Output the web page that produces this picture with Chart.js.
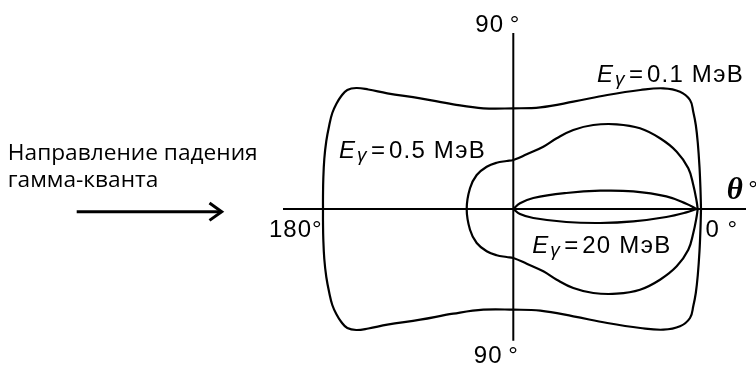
<!DOCTYPE html>
<html><head><meta charset="utf-8">
<script src="https://cdn.jsdelivr.net/npm/chart.js@4/dist/chart.umd.min.js"></script>
<style>html,body{margin:0;padding:0;background:#fff;overflow:hidden}canvas{display:block}</style>
</head><body>
<canvas id="c" width="756" height="373"></canvas>
<script>
// ---- data (units of the drawing, origin = scattering point, y up) ----
// Upper half of each curve, from theta = 0 (right) to theta = 180 (left); lower half is its mirror.
const curve01X = [187.7, 187.2, 186.2, 184.5, 182.5, 180, 176.7, 166.7, 150, 127, 94, 60, 27, 0, -30, -60, -93, -126, -145, -157, -166, -172, -177, -181, -184, -187, -189, -190, -190.3, -190.3];
const curve01Y = [0, 19, 42, 66, 84, 97, 109, 117.3, 120.7, 119, 114, 107.3, 101.7, 100.7, 100.7, 104.7, 110.7, 115.7, 119.5, 121, 119, 113, 105, 96, 84, 68, 50, 30, 12, 0];

const curve05X = [184.4, 183.4, 180, 175, 163.4, 146.7, 126.7, 103.4, 80, 60, 43.4, 30, 13.4, 0, -6.6, -16.6, -26.6, -36.6, -43.3, -46.6];
const curve05Y = [0, 7.3, 24, 40.7, 57.3, 70.7, 80.7, 84.7, 84, 79, 70.7, 62.3, 54.7, 49, 48, 46.3, 42.3, 34, 20.7, 0];

const curve20UpperX = [0, 6.7, 20, 53, 87, 120, 153, 173, 183.4];
const curve20UpperY = [0, 5.7, 11, 16, 18.3, 17.6, 12.6, 5.3, 0];
const curve20LowerX = [0, 6.7, 20, 53, 87, 120, 153, 173, 183.4];
const curve20LowerY = [0, -5, -9, -13, -14, -12.4, -8, -3.4, 0];

const energyLabels = ['0.1 МэВ', '0.5 МэВ', '20 МэВ'];
const angleLabels = ['90\u2009°', '90\u2009°', '180°', '0 °'];
const directionText = ['Направление падения', 'гамма-кванта'];

// ---- helpers ----
function pts(X, Y, sign) { return X.map((x, i) => ({x: x, y: sign * Y[i]})); }
function closedMirror(X, Y) {
  const up = pts(X, Y, 1);
  const down = pts(X, Y, -1).slice(0, -1).reverse();
  return up.concat(down);
}

const ORIGIN_X = 513.3, ORIGIN_Y = 209;
const W = 756, H = 373;

const lineDs = (data, w, extra) => Object.assign({
  data: data, showLine: true, borderColor: '#000', borderWidth: w,
  pointRadius: 0, pointHoverRadius: 0, fill: false, tension: 0
}, extra || {});

const datasets = [
  lineDs([{x: -230.3, y: 0}, {x: 232.7, y: 0}], 2),
  lineDs([{x: 0, y: 176}, {x: 0, y: -131.7}], 2),
  lineDs(closedMirror(curve01X, curve01Y), 2.2, {tension: 0.4}),
  lineDs(closedMirror(curve05X, curve05Y), 2.2, {tension: 0.4}),
  lineDs(pts(curve20UpperX, curve20UpperY, 1), 2.2, {tension: 0.4}),
  lineDs(pts(curve20LowerX, curve20LowerY, 1), 2.2, {tension: 0.4}),
  // incident direction arrow
  lineDs([{x: -436.6, y: -2.7}, {x: -292.5, y: -2.7}], 3),
  lineDs([{x: -303.8, y: 6}, {x: -291.6, y: -2.7}, {x: -303.8, y: -11.4}], 3, {borderJoinStyle: 'miter'})
];

const textPlugin = {
  id: 'texts',
  afterDatasetsDraw(chart) {
    const ctx = chart.ctx, sx = chart.scales.x, sy = chart.scales.y;
    const X = v => sx.getPixelForValue(v), Y = v => sy.getPixelForValue(v);
    const spacing = s => { if ('letterSpacing' in ctx) ctx.letterSpacing = s; };
    ctx.save();
    ctx.fillStyle = '#000';
    ctx.textBaseline = 'alphabetic';
    ctx.textAlign = 'left';
    const sans = '"Liberation Sans", Arial, sans-serif';
    ctx.font = '24px ' + sans;
    spacing('1px');
    ctx.fillText(angleLabels[0], X(-38), Y(177));
    ctx.fillText(angleLabels[1], X(-39.5), Y(-154.3));
    ctx.fillText(angleLabels[2], X(-244.3), Y(-28));
    ctx.fillText(angleLabels[3], X(192.2), Y(-28.3));
    spacing('0px');
    // theta
    ctx.font = 'italic bold 31px "Liberation Serif", "Times New Roman", serif';
    ctx.fillText('θ', X(213.5), Y(10));
    ctx.font = '24px ' + sans;
    ctx.fillText('°', X(235), Y(12));
    // energy labels
    const eLab = (dx, dy, val) => {
      const x0 = X(dx), y0 = Y(dy);
      ctx.font = 'italic 24px ' + sans;
      ctx.fillText('E', x0 - 1, y0);
      ctx.font = 'italic 19px ' + sans;
      ctx.fillText('γ', x0 + 17, y0 + 3);
      ctx.font = '24px ' + sans;
      ctx.fillText('=', x0 + 31, y0);
      spacing('1.2px');
      ctx.fillText(val, x0 + 49, y0);
      spacing('0px');
    };
    eLab(84.7, 127.3, energyLabels[0]);
    eLab(-173.3, 51, energyLabels[1]);
    eLab(20, -44.3, energyLabels[2]);
    // direction text: font size fitted to the reference line width
    const fam = '"Open Sans", "Noto Sans", sans-serif';
    ctx.font = '20px ' + fam;
    const w = ctx.measureText(directionText[0]).width;
    const size = 20 * 250 / w;
    ctx.font = size.toFixed(2) + 'px ' + fam;
    ctx.fillText(directionText[0], X(-505.5), Y(49));
    ctx.fillText(directionText[1], X(-505.5), Y(22.3));
    ctx.restore();
  }
};

new Chart(document.getElementById('c'), {
  type: 'scatter',
  data: {datasets: datasets},
  options: {
    responsive: false, animation: false, devicePixelRatio: 1,
    layout: {padding: 0},
    plugins: {legend: {display: false}, tooltip: {enabled: false}},
    elements: {line: {capBezierPoints: false}},
    scales: {
      x: {type: 'linear', display: false, min: -ORIGIN_X, max: W - ORIGIN_X},
      y: {type: 'linear', display: false, min: -(H - ORIGIN_Y), max: ORIGIN_Y}
    }
  },
  plugins: [textPlugin]
});
</script>
</body></html>
